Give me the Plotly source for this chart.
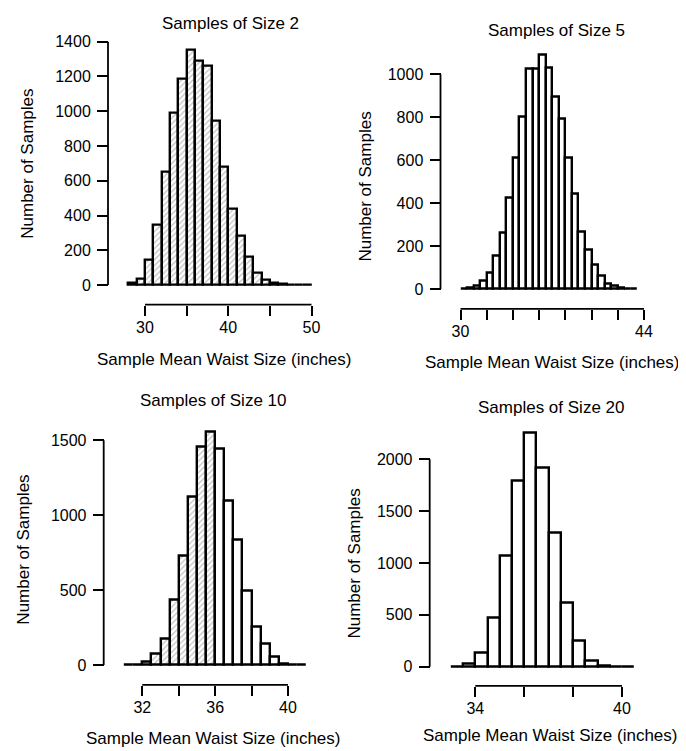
import plotly.graph_objects as go

W, H = 686, 751

# ---------------- data ----------------
size2_bin_start = 28.0
size2_bin_width = 1.0
size2_counts = [15, 35, 145, 345, 650, 994, 1185, 1352, 1288, 1259, 945, 678,
                436, 282, 164, 72, 30, 11, 5, 3, 2, 1]

size5_bin_start = 30.0
size5_bin_width = 0.5
size5_counts = [2, 5, 15, 38, 77, 157, 261, 423, 611, 803, 1027, 1027, 1089,
                1030, 895, 792, 611, 446, 269, 181, 115, 63, 27, 15, 6, 3, 1]

size10_bin_start = 31.0
size10_bin_width = 0.5
size10_counts = [2, 5, 20, 77, 174, 434, 728, 1125, 1460, 1559, 1445, 1100,
                 836, 494, 258, 143, 53, 12, 4, 1]

size20_bin_start = 33.0
size20_bin_width = 0.5
size20_counts = [3, 28, 140, 469, 1075, 1799, 2262, 1920, 1289, 619, 248, 56,
                 14, 3, 1]

size2_xticks = [30, 35, 40, 45, 50]
size2_xlabels = ["30", "", "40", "", "50"]
size2_yticks = [0, 200, 400, 600, 800, 1000, 1200, 1400]

size5_xticks = [30, 32, 34, 36, 38, 40, 42, 44]
size5_xlabels = ["30", "", "", "", "", "", "", "44"]
size5_yticks = [0, 200, 400, 600, 800, 1000]

size10_xticks = [32, 34, 36, 38, 40]
size10_xlabels = ["32", "", "36", "", "40"]
size10_yticks = [0, 500, 1000, 1500]

size20_xticks = [34, 36, 38, 40]
size20_xlabels = ["34", "", "", "40"]
size20_yticks = [0, 500, 1000, 1500, 2000]

titles = ["Samples of Size 2", "Samples of Size 5",
          "Samples of Size 10", "Samples of Size 20"]
x_title = "Sample Mean Waist Size (inches)"
y_title = "Number of Samples"

# ---------------- layout geometry (pixels) ----------------
panels = [
    dict(start=size2_bin_start, width=size2_bin_width, counts=size2_counts,
         xt=size2_xticks, xl=size2_xlabels, yt=size2_yticks,
         xmap=(30, 137.0, 50, 303.5), ymap=(0, 279.3, 1400, 34.0),
         yax_px=100.0, xax_px=299.0, dom_x=(101, 313), dom_y=(26, 282),
         title_xy=(222, 16), xtitle_xy=(216, 354), ytitle_xy=(20, 157),
         hatch=True),
    dict(start=size5_bin_start, width=size5_bin_width, counts=size5_counts,
         xt=size5_xticks, xl=size5_xlabels, yt=size5_yticks,
         xmap=(30, 452.5, 44, 636.0), ymap=(0, 283.3, 1000, 66.7),
         yax_px=432.5, xax_px=303.3, dom_x=(434, 645), dom_y=(40, 286),
         title_xy=(548, 23), xtitle_xy=(544, 357), ytitle_xy=(358, 180),
         hatch=False),
    dict(start=size10_bin_start, width=size10_bin_width, counts=size10_counts,
         xt=size10_xticks, xl=size10_xlabels, yt=size10_yticks,
         xmap=(32, 134.3, 40, 280.0), ymap=(0, 662.3, 1500, 435.7),
         yax_px=95.7, xax_px=682.3, dom_x=(97, 305), dom_y=(420, 665),
         title_xy=(205, 396), xtitle_xy=(205, 736), ytitle_xy=(16, 546),
         hatch="left"),
    dict(start=size20_bin_start, width=size20_bin_width, counts=size20_counts,
         xt=size20_xticks, xl=size20_xlabels, yt=size20_yticks,
         xmap=(34, 467.3, 40, 614.0), ymap=(0, 664.0, 2000, 455.0),
         yax_px=421.7, xax_px=683.3, dom_x=(423, 640), dom_y=(420, 667),
         title_xy=(543, 403), xtitle_xy=(542, 733), ytitle_xy=(347, 560),
         hatch=False),
]

TICK_FONT = dict(family="Liberation Sans, Arial, sans-serif", size=16, color="black")
TITLE_FONT = dict(family="Liberation Sans, Arial, sans-serif", size=17, color="black")


def px_to_val(v1, p1, v2, p2):
    return lambda p: v1 + (p - p1) * (v2 - v1) / (p2 - p1)


fig = go.Figure()
shapes = []
annotations = []
layout_axes = {}

for i, p in enumerate(panels, start=1):
    xs = "" if i == 1 else str(i)
    fx = px_to_val(*p["xmap"])
    fy = px_to_val(*p["ymap"])
    xr = [fx(p["dom_x"][0]), fx(p["dom_x"][1])]
    yr = [fy(p["dom_y"][1]), fy(p["dom_y"][0])]

    n = len(p["counts"])
    lefts = [p["start"] + k * p["width"] for k in range(n)]

    if p["hatch"] is True:
        shapes_arr = ["/"] * n
    elif p["hatch"] == "left":
        shapes_arr = ["/" if l < 36 else "" for l in lefts]
    else:
        shapes_arr = [""] * n

    fig.add_trace(go.Bar(
        x=lefts, y=p["counts"], width=p["width"], offset=0,
        xaxis="x" + xs, yaxis="y" + xs,
        marker=dict(color="white",
                    line=dict(color="black", width=2.4),
                    pattern=dict(shape=shapes_arr, fgcolor="#808080",
                                 bgcolor="white", size=4, solidity=0.3)),
        hoverinfo="x+y", showlegend=False,
    ))

    layout_axes["xaxis" + xs] = dict(
        domain=[p["dom_x"][0] / W, p["dom_x"][1] / W], range=xr,
        anchor="free", position=1 - p["xax_px"] / H,
        tickmode="array", tickvals=p["xt"], ticktext=p["xl"],
        ticks="outside", ticklen=10, tickwidth=1.8, tickcolor="black",
        ticklabelstandoff=-2,
        showline=False, showgrid=False, zeroline=False, tickfont=TICK_FONT,
    )
    layout_axes["yaxis" + xs] = dict(
        domain=[1 - p["dom_y"][1] / H, 1 - p["dom_y"][0] / H], range=yr,
        anchor="free", position=p["yax_px"] / W,
        tickmode="array", tickvals=p["yt"], ticktext=[str(v) for v in p["yt"]],
        ticks="outside", ticklen=11, tickwidth=1.8, tickcolor="black",
        ticklabelstandoff=3,
        showline=False, showgrid=False, zeroline=False, tickfont=TICK_FONT,
    )

    # axis lines spanning first to last tick (R style)
    shapes.append(dict(type="line", xref="x" + xs, yref="paper",
                       x0=p["xt"][0], x1=p["xt"][-1],
                       y0=1 - p["xax_px"] / H, y1=1 - p["xax_px"] / H,
                       line=dict(color="black", width=1.8)))
    shapes.append(dict(type="line", xref="paper", yref="y" + xs,
                       x0=p["yax_px"] / W, x1=p["yax_px"] / W,
                       y0=p["yt"][0], y1=p["yt"][-1],
                       line=dict(color="black", width=1.8)))

    tx, ty = p["title_xy"]
    annotations.append(dict(text=titles[i - 1], x=tx / W, y=1 - ty / H,
                            xref="paper", yref="paper", showarrow=False,
                            xanchor="center", yanchor="middle", font=TITLE_FONT))
    tx, ty = p["xtitle_xy"]
    annotations.append(dict(text=x_title, x=tx / W, y=1 - ty / H,
                            xref="paper", yref="paper", showarrow=False,
                            xanchor="center", yanchor="middle", font=TITLE_FONT))
    tx, ty = p["ytitle_xy"]
    annotations.append(dict(text=y_title, x=tx / W, y=1 - ty / H,
                            xref="paper", yref="paper", showarrow=False,
                            textangle=-90,
                            xanchor="center", yanchor="middle", font=TITLE_FONT))

fig.update_layout(
    width=W, height=H,
    margin=dict(l=0, r=0, t=0, b=0),
    paper_bgcolor="white", plot_bgcolor="white",
    bargap=0, showlegend=False,
    shapes=shapes, annotations=annotations,
    **layout_axes,
)

fig.write_html("out.html")
